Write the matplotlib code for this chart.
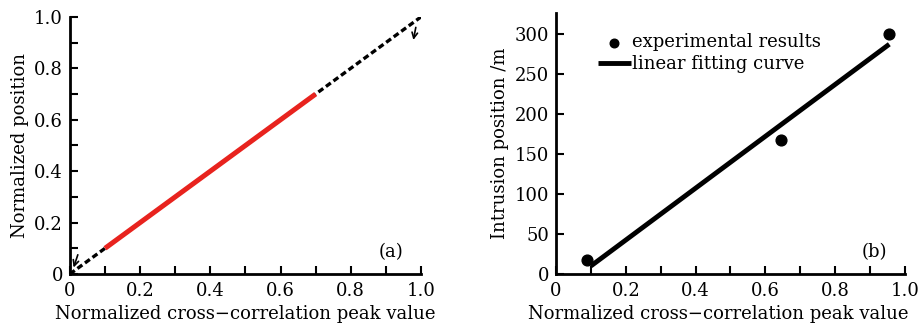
import matplotlib
matplotlib.use("Agg")
import matplotlib.pyplot as plt
import numpy as np

plt.rcParams['font.family'] = ['DejaVu Serif']
plt.rcParams['mathtext.fontset'] = 'dejavuserif'

# Panel (a) data
line_a_x = [0.0, 1.0]
line_a_y = [0.0, 1.0]
red_x = [0.1, 0.7]
red_y = [0.1, 0.7]

# Panel (b) data
exp_x = [0.09, 0.645, 0.955]
exp_y = [18, 167, 300]
fit_x = [0.1, 0.955]
fit_y = [10, 287]

xticks = [0, 0.2, 0.4, 0.6, 0.8, 1.0]
xticklabels = ['0', '0.2', '0.4', '0.6', '0.8', '1.0']
yticks_a = [0, 0.2, 0.4, 0.6, 0.8, 1.0]
yticklabels_a = ['0', '0.2', '0.4', '0.6', '0.8', '1.0']
yticks_b = [0, 50, 100, 150, 200, 250, 300]

fs = 13
fig = plt.figure(figsize=(9.2, 3.26), dpi=100)

def style(ax):
    for s in ['top', 'right']:
        ax.spines[s].set_visible(False)
    for s in ['left', 'bottom']:
        ax.spines[s].set_linewidth(2)
    ax.tick_params(which='both', direction='in', width=1.5, labelsize=fs)
    ax.tick_params(which='major', length=6)
    ax.tick_params(which='minor', length=6)
    ax.tick_params(axis='x', which='major', pad=6)
    ax.tick_params(axis='y', which='major', pad=5)

# (a)
ax1 = fig.add_axes([0.076, 0.1595, 0.3815, 0.7885])
ax1.plot(line_a_x, line_a_y, color='black', ls=(0, (1.8, 1.0)), lw=2.4)
ax1.plot(red_x, red_y, color='#e8231e', lw=3.6, solid_capstyle='butt')
ax1.set_xlim(0, 1.0)
ax1.set_ylim(0, 1.0)
ax1.set_xticks(xticks)
ax1.set_xticklabels(xticklabels)
ax1.set_xticks(np.arange(0.1, 1.0, 0.2), minor=True)
ax1.set_yticks(yticks_a)
ax1.set_yticklabels(yticklabels_a)
ax1.set_yticks(np.arange(0.1, 1.0, 0.2), minor=True)
style(ax1)
ax1.annotate('', xy=(0.008, 0.015), xytext=(0.025, 0.085),
             arrowprops=dict(arrowstyle='->', lw=1.2, color='black'), annotation_clip=False)
ax1.annotate('', xy=(0.977, 0.9), xytext=(0.987, 0.97),
             arrowprops=dict(arrowstyle='->', lw=1.2, color='black'))
ax1.text(0.95, 0.05, '(a)', transform=ax1.transAxes, ha='right', va='bottom', fontsize=fs)
ax1.set_xlabel('Normalized cross\u2212correlation peak value', fontsize=fs, labelpad=3)
ax1.set_ylabel('Normalized position', fontsize=fs, labelpad=4)

# (b)
ax2 = fig.add_axes([0.6043, 0.1595, 0.3794, 0.8006])
ax2.plot(fit_x, fit_y, color='black', lw=3.5, label='linear fitting curve', solid_capstyle='butt')
ax2.scatter(exp_x, exp_y, color='black', s=60, zorder=3, label='experimental results')
ax2.set_xlim(0, 1.0)
ax2.set_ylim(0, 326)
ax2.set_xticks(xticks)
ax2.set_xticklabels(xticklabels)
ax2.set_xticks(np.arange(0.1, 1.0, 0.2), minor=True)
ax2.set_yticks(yticks_b)
style(ax2)
h, l = ax2.get_legend_handles_labels()
ax2.legend([h[1], h[0]], [l[1], l[0]], loc='upper left', bbox_to_anchor=(0.10, 0.95),
           frameon=False, fontsize=fs, handlelength=1.8, handletextpad=0.1,
           labelspacing=0.2, borderaxespad=0, markerscale=0.8)
ax2.text(0.95, 0.05, '(b)', transform=ax2.transAxes, ha='right', va='bottom', fontsize=fs)
ax2.set_xlabel('Normalized cross\u2212correlation peak value', fontsize=fs, labelpad=3)
ax2.xaxis.label.set_x(0.465)
ax2.set_ylabel('Intrusion position /m', fontsize=fs, labelpad=4)

fig.savefig('out.png', dpi=100)
